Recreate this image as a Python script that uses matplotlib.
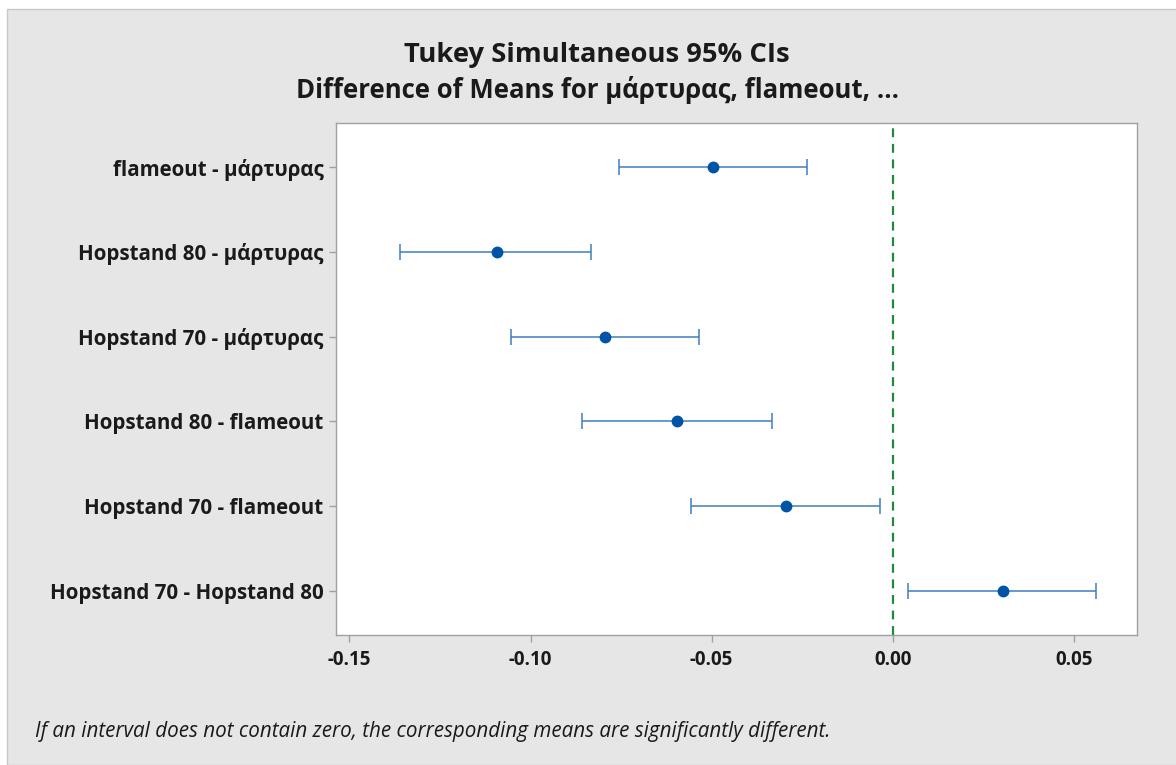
import numpy as np
import matplotlib.pyplot as plt
from matplotlib.patches import Rectangle

plt.rcParams['font.family'] = ['Open Sans', 'DejaVu Sans']

comparisons = ["flameout - μάρτυρας", "Hopstand 80 - μάρτυρας", "Hopstand 70 - μάρτυρας",
               "Hopstand 80 - flameout", "Hopstand 70 - flameout", "Hopstand 70 - Hopstand 80"]
diff = [-0.0495, -0.1092, -0.0794, -0.0596, -0.0295, 0.0304]
lower = [-0.0756, -0.1360, -0.1054, -0.0858, -0.0557, 0.0043]
upper = [-0.0237, -0.0833, -0.0535, -0.0333, -0.0035, 0.0562]
xticks = [-0.15, -0.10, -0.05, 0.00, 0.05]

fig = plt.figure(figsize=(11.76, 7.65), dpi=100)
fig.patch.set_facecolor('white')
# grey panel behind everything
panel = Rectangle((7 / 1176, 0), 1.0, 1 - 9 / 765, transform=fig.transFigure,
                  facecolor='#e6e6e6', edgecolor='#c8c8c8', linewidth=1, zorder=-10)
fig.add_artist(panel)

ax = fig.add_axes([336 / 1176, 1 - 635 / 765, (1137 - 336) / 1176, (635 - 123) / 765])
ax.set_zorder(5)
ax.set_facecolor('white')

y = np.arange(1, len(comparisons) + 1)
d = np.array(diff)
xerr = [d - np.array(lower), np.array(upper) - d]
ax.errorbar(d, y, xerr=xerr, fmt='none', ecolor='#3d7ebf', elinewidth=1.1,
            capsize=6, capthick=1.1, zorder=2)
ax.plot(d, y, 'o', color='#0054a6', markersize=7.5, zorder=3)
ax.axvline(0, color='#1f8a3b', linestyle=(0, (4, 3)), linewidth=1.6, zorder=1)

ax.set_xlim(-0.1537, 0.0674)
ax.set_ylim(6.52, 0.48)
ax.set_yticks(y)
ax.set_yticklabels(comparisons, fontsize=14.8, fontweight='bold', color='#1a1a1a')
ax.set_xticks(xticks)
ax.set_xticklabels([f"{t:.2f}" for t in xticks], fontsize=13.5, fontweight='bold', color='#1a1a1a')
ax.tick_params(length=5, color='#a0a0a0', width=1, pad=6)
ax.tick_params(axis='y', pad=4)
for s in ax.spines.values():
    s.set_color('#a0a0a0')
    s.set_linewidth(1)

fig.text(597 / 1176, 1 - 55 / 765, "Tukey Simultaneous 95% CIs", ha='center', va='center',
         fontsize=19.7, fontweight='bold', color='#1a1a1a')
fig.text(597 / 1176, 1 - 90 / 765, "Difference of Means for μάρτυρας, flameout, ...", ha='center',
         va='center', fontsize=18.5, fontweight='bold', color='#1a1a1a')
fig.text(35 / 1176, 1 - 731 / 765,
         "If an interval does not contain zero, the corresponding means are significantly different.",
         ha='left', va='center', fontsize=14.9, style='italic', color='#1a1a1a')

fig.savefig("out.png", dpi=100)
